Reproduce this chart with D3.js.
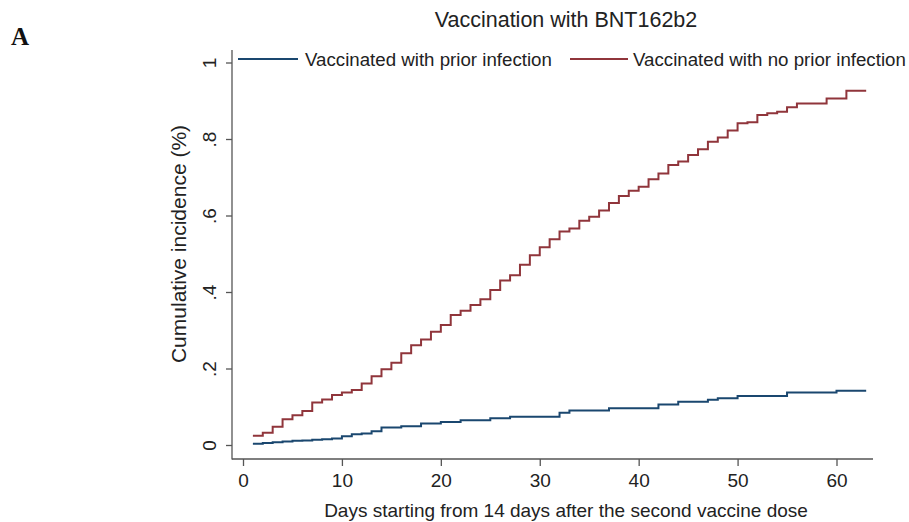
<!DOCTYPE html>
<html>
<head>
<meta charset="utf-8">
<script src="https://cdn.jsdelivr.net/npm/d3@7"></script>
<style>
  html, body { margin: 0; padding: 0; background: #fff; }
  svg { display: block; }
  text { font-family: "Liberation Sans", Arial, sans-serif; fill: #222; }
</style>
</head>
<body>
<svg id="chart" width="909" height="522"></svg>
<script>
// ---- data ----
const chartTitle = "Vaccination with BNT162b2";
const panelLabel = "A";
const seriesNames = ["Vaccinated with prior infection", "Vaccinated with no prior infection"];
const xTicks = [0, 10, 20, 30, 40, 50, 60];
const yTicks = [0, 0.2, 0.4, 0.6, 0.8, 1];
const yTickLabels = ["0", ".2", ".4", ".6", ".8", "1"];
const xTitle = "Days starting from 14 days after the second vaccine dose";
const yTitle = "Cumulative incidence (%)";
const endDay = 63;

// vaccinated with prior infection (step values from given day)
const priorDays   = [1, 2, 3, 4, 5, 6, 7, 8, 9, 10, 11, 12, 13, 14, 16, 18, 20, 22, 25, 27, 32, 33, 37, 42, 44, 47, 48, 50, 55, 60];
const priorValues = [0.003, 0.005, 0.007, 0.009, 0.011, 0.012, 0.014, 0.015, 0.017, 0.023, 0.028, 0.030, 0.036, 0.046, 0.049, 0.056, 0.060, 0.065, 0.070, 0.074, 0.084, 0.090, 0.096, 0.106, 0.113, 0.118, 0.122, 0.128, 0.137, 0.142];

// vaccinated with no prior infection
const noPriorDays   = [1, 2, 3, 4, 5, 6, 7, 8, 9, 10, 11, 12, 13, 14, 15, 16, 17, 18, 19, 20, 21, 22, 23, 24, 25, 26, 27, 28, 29, 30, 31, 32, 33, 34, 35, 36, 37, 38, 39, 40, 41, 42, 43, 44, 45, 46, 47, 48, 49, 50, 51, 52, 53, 54, 55, 56, 59, 61];
const noPriorValues = [0.024, 0.032, 0.048, 0.067, 0.078, 0.089, 0.111, 0.119, 0.131, 0.137, 0.144, 0.161, 0.180, 0.198, 0.215, 0.240, 0.261, 0.276, 0.296, 0.314, 0.340, 0.351, 0.366, 0.381, 0.405, 0.430, 0.444, 0.471, 0.496, 0.517, 0.538, 0.558, 0.566, 0.586, 0.597, 0.613, 0.633, 0.651, 0.665, 0.675, 0.695, 0.710, 0.732, 0.741, 0.758, 0.773, 0.793, 0.804, 0.822, 0.841, 0.844, 0.863, 0.867, 0.871, 0.883, 0.893, 0.906, 0.926];

const colors = ["#1a476f", "#90353b"];

// ---- drawing ----
const svg = d3.select("#chart");
const x = d3.scaleLinear().domain([0, 60]).range([243, 836.5]);
const y = d3.scaleLinear().domain([0, 1]).range([445, 62.5]);

const axisColor = "#555";

// axis lines
svg.append("line").attr("x1", 232).attr("x2", 232).attr("y1", 50).attr("y2", 459.5)
  .attr("stroke", axisColor).attr("stroke-width", 1.3);
svg.append("line").attr("x1", 232).attr("x2", 873).attr("y1", 459).attr("y2", 459)
  .attr("stroke", axisColor).attr("stroke-width", 1.3);

// y ticks
const yAxis = d3.axisLeft(y).tickValues(yTicks).tickSize(6).tickPadding(10)
  .tickFormat((d, i) => yTickLabels[i]);
const gy = svg.append("g").attr("transform", "translate(232,0)").call(yAxis);
gy.select(".domain").remove();
gy.selectAll(".tick line").attr("stroke", axisColor).attr("stroke-width", 1.3);
gy.selectAll(".tick text")
  .style("font-family", "Liberation Sans, Arial, sans-serif")
  .attr("font-size", 19).attr("fill", "#222")
  .attr("text-anchor", "middle")
  .attr("x", 0).attr("dy", null).attr("dominant-baseline", "auto")
  .attr("transform", "translate(-16,0) rotate(-90)")
  .attr("y", 0);

// x ticks
const xAxis = d3.axisBottom(x).tickValues(xTicks).tickSize(7).tickPadding(8).tickFormat(d3.format("d"));
const gx = svg.append("g").attr("transform", "translate(0,459)").call(xAxis);
gx.select(".domain").remove();
gx.selectAll(".tick line").attr("stroke", axisColor).attr("stroke-width", 1.3);
gx.selectAll(".tick text")
  .style("font-family", "Liberation Sans, Arial, sans-serif")
  .attr("font-size", 19).attr("fill", "#222");

// lines
const stepLine = d3.line().x(d => x(d[0])).y(d => y(d[1])).curve(d3.curveStepAfter);
function series(days, vals) {
  const pts = days.map((d, i) => [d, vals[i]]);
  pts.push([endDay, vals[vals.length - 1]]);
  return pts;
}
const allSeries = [series(priorDays, priorValues), series(noPriorDays, noPriorValues)];
allSeries.forEach((pts, i) => {
  svg.append("path").datum(pts)
    .attr("d", stepLine)
    .attr("fill", "none")
    .attr("stroke", colors[i])
    .attr("stroke-width", 2);
});

// title
svg.append("text").attr("x", 566).attr("y", 27).attr("text-anchor", "middle")
  .attr("font-size", 21.5).text(chartTitle);

// panel label
svg.append("text").attr("x", 11).attr("y", 45)
  .style("font-family", "'Liberation Serif', 'Times New Roman', serif")
  .style("font-weight", "bold").attr("font-size", 25).style("fill", "#111")
  .text(panelLabel);

// legend
const legendItems = [
  { x1: 238, x2: 298, tx: 305 },
  { x1: 570, x2: 628, tx: 633 }
];
legendItems.forEach((it, i) => {
  svg.append("line").attr("x1", it.x1).attr("x2", it.x2).attr("y1", 59).attr("y2", 59)
    .attr("stroke", colors[i]).attr("stroke-width", 2);
  svg.append("text").attr("x", it.tx).attr("y", 66).attr("font-size", 18.7)
    .text(seriesNames[i]);
});

// axis titles
svg.append("text").attr("x", 566).attr("y", 517).attr("text-anchor", "middle")
  .attr("font-size", 19).text(xTitle);
svg.append("text").attr("transform", "translate(186,244) rotate(-90)")
  .attr("text-anchor", "middle").attr("font-size", 21).text(yTitle);
</script>
</body>
</html>
